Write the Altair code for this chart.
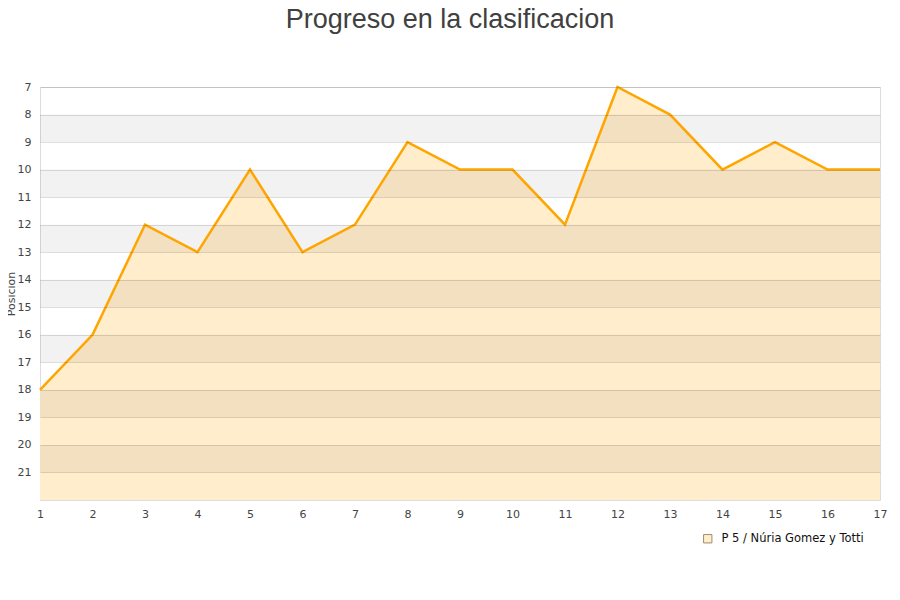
import altair as alt
import pandas as pd

jornadas = list(range(1, 18))
posiciones = [18, 16, 12, 13, 10, 13, 12, 9, 10, 10, 12, 7, 8, 10, 9, 10, 10]
serie = "P 5 / Núria Gomez y Totti"

franja_ini = [8, 10, 12, 14, 16, 18, 20]
franja_fin = [9, 11, 13, 15, 17, 19, 21]
marcas_y = list(range(7, 22))

df = pd.DataFrame({"jornada": jornadas, "pos": posiciones, "serie": serie})
bandas = pd.DataFrame({"y0": franja_ini, "y1": franja_fin})

W, H = 840, 413

yscale = alt.Scale(domain=[7, 22], reverse=True, nice=False, zero=False)
xscale = alt.Scale(domain=[1, 17], nice=False, zero=False)

eje_x = alt.Axis(values=jornadas, title=None, grid=False, ticks=False, domain=False,
                 labelPadding=8, format="d", labelOverlap=False, labelFlush=False)
eje_y = alt.Axis(values=marcas_y, title="Posicion", ticks=False, domain=False,
                 labelPadding=9, titlePadding=1, zindex=1, labelOverlap=False,
                 labelBound=False, labelFlush=False, gridColor="#000000",
                 gridOpacity=0.12, format="d")

area = (
    alt.Chart(df)
    .mark_area(interpolate="linear")
    .encode(
        x=alt.X("jornada:Q", scale=xscale, axis=eje_x),
        y=alt.Y("pos:Q", scale=yscale, axis=eje_y),
        y2=alt.datum(22),
        fill=alt.Fill("serie:N", scale=alt.Scale(range=["#FFEDCC"]),
                      legend=alt.Legend(title=None, orient="none", legendX=662, legendY=446,
                                        symbolType="square", symbolSize=70,
                                        symbolStrokeColor="#a08a70", symbolStrokeWidth=1,
                                        labelFontSize=11.5, labelColor="#111111",
                                        labelFont="DejaVu Sans", labelOffset=8)),
    )
)

fondo = (
    alt.Chart(bandas)
    .mark_rect(color="#000000", opacity=0.05)
    .encode(
        x=alt.value(0),
        x2=alt.value(W),
        y=alt.Y("y0:Q", scale=yscale, axis=eje_y),
        y2="y1:Q",
    )
)

linea = (
    alt.Chart(df)
    .mark_line(color="#FFA500", strokeWidth=2.5)
    .encode(x=alt.X("jornada:Q", scale=xscale, axis=eje_x),
            y=alt.Y("pos:Q", scale=yscale, axis=eje_y))
)

chart = (
    alt.layer(area, fondo, linea)
    .properties(
        width=W,
        height=H,
        autosize=alt.AutoSizeParams(type="none"),
        padding={"left": 32, "top": 79, "right": 12, "bottom": 90},
        title=alt.Title("Progreso en la clasificacion", fontSize=27, font="Liberation Sans",
                        fontWeight="normal", color="#404040", anchor="middle", dx=-10,
                        offset=47),
    )
    .configure_view(stroke="#dddddd")
    .configure_axis(labelFont="DejaVu Sans", labelFontSize=11, labelColor="#444444",
                    titleFont="DejaVu Sans", titleFontSize=11, titleColor="#444444",
                    titleFontWeight="normal", labelOverlap=False)
)

chart.save("out.html", embed_options={"renderer": "svg", "actions": False})
